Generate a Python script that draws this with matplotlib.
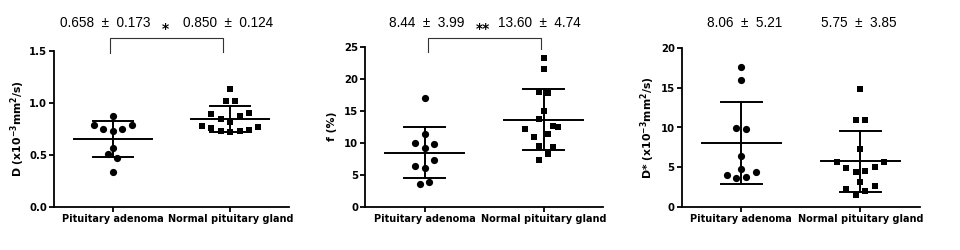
import numpy as np
import matplotlib
matplotlib.use("Agg")
import matplotlib.pyplot as plt
from matplotlib.transforms import blended_transform_factory

plt.rcParams['font.family'] = ['DejaVu Sans']
plt.rcParams['mathtext.default'] = 'bf'

groups = ["Pituitary adenoma", "Normal pituitary gland"]

# D values (x10^-3 mm2/s)
d_adenoma = [0.877, 0.788, 0.747, 0.731, 0.747, 0.788, 0.565, 0.508, 0.475, 0.341]
d_normal = [1.133, 1.017, 1.017, 0.891, 0.846, 0.878, 0.900, 0.814,
            0.776, 0.757, 0.731, 0.724, 0.731, 0.743, 0.766]
d_mean = [0.658, 0.850]
d_sd = [0.173, 0.124]

# f values (%)
f_adenoma = [17.0, 11.31, 9.9, 9.8, 9.12, 7.3, 6.4, 6.1, 3.5, 3.8]
f_normal = [23.3, 21.5, 17.97, 17.8, 15.0, 13.7, 12.1, 12.66, 12.4,
            10.94, 11.4, 9.53, 9.38, 8.28, 7.3]
f_mean = [8.44, 13.60]
f_sd = [3.99, 4.74]

# D* values (x10^-3 mm2/s)
ds_adenoma = [17.6, 15.96, 9.9, 9.85, 6.36, 4.8, 4.04, 3.62, 3.7, 4.33]
ds_normal = [14.86, 10.98, 10.98, 7.24, 5.6, 5.6, 4.89, 5.01, 4.34, 4.5,
             3.07, 2.23, 2.61, 2.02, 1.43]
ds_mean = [8.06, 5.75]
ds_sd = [5.21, 3.85]

# scatter spread of the points within a column (prism style)
d_adenoma_dx = [0, -0.16, -0.08, 0, 0.08, 0.16, 0, -0.04, 0.04, 0]
d_normal_dx = [0, -0.04, 0.04, -0.16, -0.08, 0.08, 0.16, 0, -0.24, -0.16, -0.08, 0, 0.08, 0.16, 0.24]
f_adenoma_dx = [0, 0, -0.08, 0.08, 0, 0.08, -0.08, 0, -0.04, 0.04]
f_normal_dx = [0, 0, -0.04, 0.04, 0, -0.04, -0.16, 0.08, 0.12, -0.08, 0.04, -0.04, 0.08, 0.04, -0.04]
ds_adenoma_dx = [0, 0, -0.04, 0.04, 0, 0, -0.12, -0.04, 0.04, 0.12]
ds_normal_dx = [0, -0.04, 0.04, 0, -0.2, 0.2, -0.12, 0.12, -0.04, 0.04, 0, -0.12, 0.12, 0.04, -0.04]

d_fmt = "{:.3f}  \u00b1  {:.3f}"
f_fmt = "{:.2f}  \u00b1  {:.2f}"


def panel(ax, adenoma, normal, a_dx, n_dx, means, sds, ylim, yticks, ytfmt, ylabel, txtfmt,
          txt_x, label_x):
    lw = 1.4
    ax.plot(np.array(a_dx), adenoma, 'o', color='k', ms=5.2, mew=0, clip_on=False, zorder=3)
    ax.plot(1 + np.array(n_dx), normal, 's', color='k', ms=4.9, mew=0, clip_on=False, zorder=3)
    for i in range(2):
        m, s = means[i], sds[i]
        ax.plot([i - 0.33, i + 0.33], [m, m], color='k', lw=lw)
        ax.plot([i - 0.17, i + 0.17], [m + s, m + s], color='k', lw=lw)
        ax.plot([i - 0.17, i + 0.17], [m - s, m - s], color='k', lw=lw)
        ax.plot([i, i], [m - s, m + s], color='k', lw=lw)

    ax.set_xlim(-0.5, 1.5)
    ax.set_ylim(*ylim)
    ax.set_yticks(yticks)
    ax.set_yticklabels([ytfmt.format(t) for t in yticks])
    ax.set_xticks([0, 1])
    ax.set_xticklabels(groups)
    for sp in ['top', 'right']:
        ax.spines[sp].set_visible(False)
    for sp in ['left', 'bottom']:
        ax.spines[sp].set_linewidth(1.3)
    ax.tick_params(axis='both', length=3.5, width=1.3, pad=1.5)
    ax.tick_params(axis='y', labelsize=7.3)
    ax.tick_params(axis='x', labelsize=7.0)
    for lab in ax.get_xticklabels() + ax.get_yticklabels():
        lab.set_fontweight('bold')
    ax.set_ylabel(ylabel, fontsize=7.8, fontweight='bold')
    ax.yaxis.set_label_coords(label_x, 0.5)

    tr = blended_transform_factory(ax.transData, fig.transFigure)
    for i in range(2):
        ax.text(txt_x[i], 0.907, txtfmt.format(means[i], sds[i]), transform=tr,
                ha='center', va='center', fontsize=9.8, family='Liberation Sans')


def bracket(ax, x0, x1, ytop, ylow0, ylow1, star, sx):
    ax.plot([x0, x0, x1, x1], [ylow0, ytop, ytop, ylow1], color='#333333', lw=0.8, clip_on=False)
    tr = blended_transform_factory(ax.transData, fig.transFigure)
    ax.text(sx, 0.882, star, transform=tr, ha='center', va='center', fontsize=10,
            fontweight='bold')


fig = plt.figure(figsize=(9.6, 2.5), dpi=100)
ax1 = fig.add_axes([0.05625, 0.1708, 0.2448, 0.6264])
ax2 = fig.add_axes([0.3802, 0.1732, 0.2482, 0.64])
ax3 = fig.add_axes([0.7101, 0.1732, 0.2482, 0.6336])

panel(ax1, d_adenoma, d_normal, d_adenoma_dx, d_normal_dx, d_mean, d_sd,
      (0, 1.5), [0, 0.5, 1.0, 1.5], "{:.1f}",
      "D (x10$^{-3}$mm$^{2}$/s)", d_fmt, [-0.06, 0.98], -0.115)
panel(ax2, f_adenoma, f_normal, f_adenoma_dx, f_normal_dx, f_mean, f_sd,
      (0, 25), [0, 5, 10, 15, 20, 25], "{:.0f}",
      "f (%)", f_fmt, [0.02, 0.96], -0.118)
panel(ax3, ds_adenoma, ds_normal, ds_adenoma_dx, ds_normal_dx, ds_mean, ds_sd,
      (0, 20), [0, 5, 10, 15, 20], "{:.0f}",
      "D* (x10$^{-3}$mm$^{2}$/s)", f_fmt, [0.03, 0.99], -0.104)

bracket(ax1, -0.02, 0.94, 1.625, 1.48, 1.49, "*", 0.45)
bracket(ax2, 0.03, 0.975, 26.4, 24.2, 24.7, "**", 0.49)

fig.savefig("out.png", dpi=100)
